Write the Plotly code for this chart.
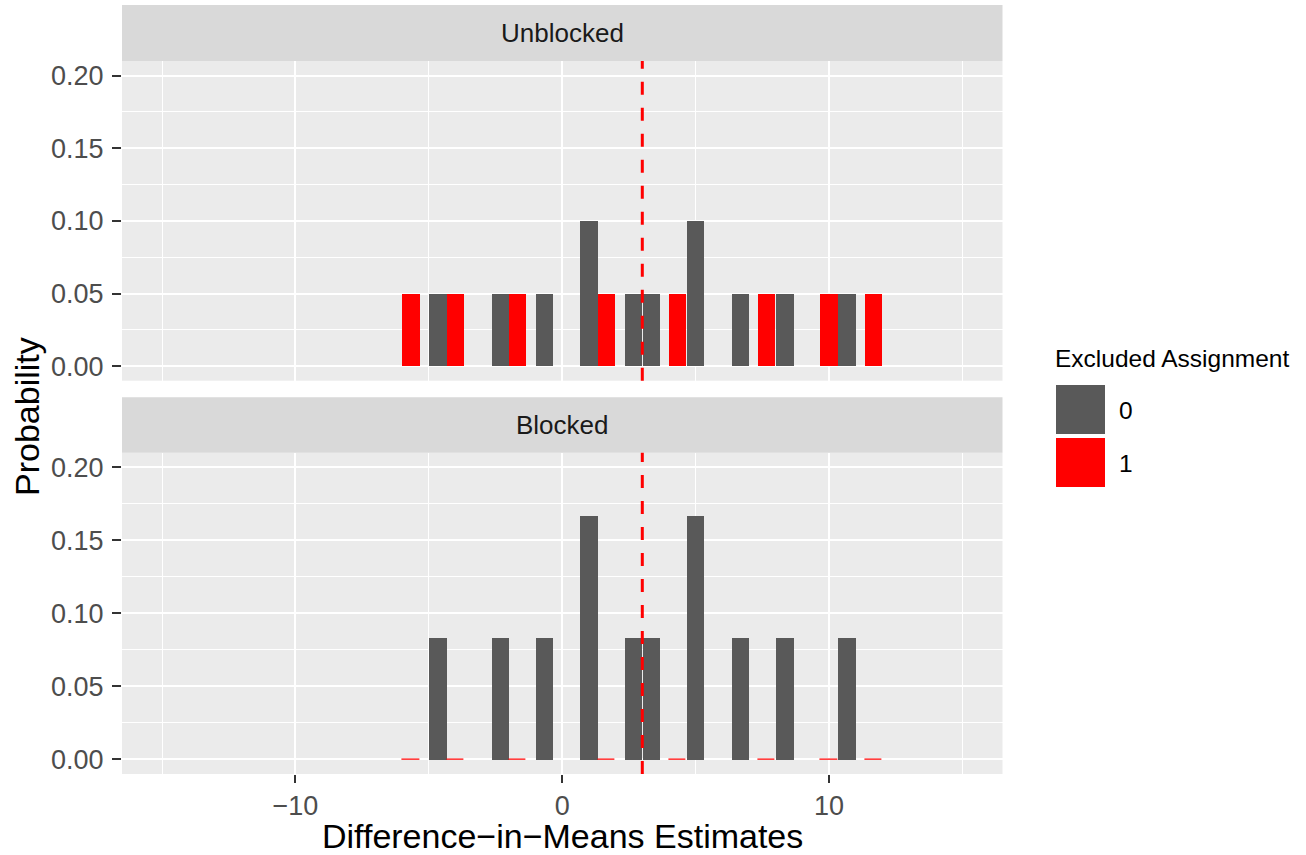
import plotly.graph_objects as go

# ---------------- data ----------------
est_excl0 = [-4.33, -2.0, -0.33, 1.33, 3.0, 3.67, 5.33, 7.0, 8.67, 11.0]
est_excl1 = [-6.0, -4.33, -2.0, 1.33, 4.0, 7.33, 9.67, 11.33]
prob_unblocked_excl0 = [0.05, 0.05, 0.05, 0.10, 0.05, 0.05, 0.10, 0.05, 0.05, 0.05]
prob_unblocked_excl1 = [0.05, 0.05, 0.05, 0.05, 0.05, 0.05, 0.05, 0.05]
prob_blocked_excl0 = [1/12, 1/12, 1/12, 2/12, 1/12, 1/12, 2/12, 1/12, 1/12, 1/12]
prob_blocked_excl1 = [0, 0, 0, 0, 0, 0, 0, 0]
true_ate = 3.0
panel_labels = ["Unblocked", "Blocked"]
legend_labels = ["0", "1"]
x_ticks = [-10, 0, 10]
x_ticktext = ["\u221210", "0", "10"]
y_ticks = [0.0, 0.05, 0.10, 0.15, 0.20]
y_ticktext = ["0.00", "0.05", "0.10", "0.15", "0.20"]

# ---------------- style ----------------
W, H = 1306, 855
GRAY = "#595959"
RED = "#FF0000"
PANEL_BG = "#EBEBEB"
STRIP_BG = "#D9D9D9"
FONT = "Liberation Sans"
BW = 0.65

def px_x(p):
    return p / W

def px_y(p):
    return 1 - p / H

xdom = [px_x(122), px_x(1002.5)]
ydom_top = [px_y(380.7), px_y(61)]
ydom_bot = [px_y(774), px_y(452.7)]

fig = go.Figure()

def add_bars(xs, ys, color, offset, xa, ya, zero_line=False):
    fig.add_trace(go.Bar(
        x=xs, y=ys, width=[BW] * len(xs), offset=offset,
        marker=dict(color=color,
                    line=dict(color=color, width=1.2 if zero_line else 0)),
        xaxis=xa, yaxis=ya, showlegend=False, hoverinfo="skip"))

add_bars(est_excl0, prob_unblocked_excl0, GRAY, -BW, "x", "y")
add_bars(est_excl1, prob_unblocked_excl1, RED, 0, "x", "y")
add_bars(est_excl0, prob_blocked_excl0, GRAY, -BW, "x2", "y2")
add_bars(est_excl1, prob_blocked_excl1, RED, 0, "x2", "y2", zero_line=True)

grid_common = dict(showgrid=True, gridcolor="white", gridwidth=2.4, zeroline=False,
                   showline=False)
minor_x = dict(tickvals=[-15, -5, 5, 15], showgrid=True, gridcolor="white",
               gridwidth=1.2, ticks="")
minor_y = dict(tickvals=[0.025, 0.075, 0.125, 0.175], showgrid=True,
               gridcolor="white", gridwidth=1.2, ticks="")

xr = [-16.5, 16.5]
yr = [-0.01, 0.21]

fig.update_layout(
    width=W, height=H, margin=dict(l=0, r=0, t=0, b=0),
    paper_bgcolor="white", plot_bgcolor=PANEL_BG, barmode="overlay",
    bargap=0, showlegend=False,
    font=dict(family=FONT),
    xaxis=dict(domain=xdom, range=xr, anchor="y", tickmode="array",
               tickvals=x_ticks, ticktext=x_ticktext, showticklabels=False,
               ticks="", minor=minor_x, **grid_common),
    yaxis=dict(domain=ydom_top, range=yr, anchor="x", tickmode="array",
               tickvals=y_ticks, ticktext=y_ticktext, ticks="outside",
               ticklen=9, tickwidth=2, tickcolor="#333333",
               ticklabelstandoff=3,
               tickfont=dict(size=27, color="#4D4D4D", family=FONT),
               minor=minor_y, **grid_common),
    xaxis2=dict(domain=xdom, range=xr, anchor="y2", tickmode="array",
                tickvals=x_ticks, ticktext=x_ticktext, ticks="outside",
                ticklen=8, tickwidth=2, tickcolor="#333333",
                ticklabelstandoff=0,
                tickfont=dict(size=27, color="#4D4D4D", family=FONT),
                minor=minor_x, **grid_common),
    yaxis2=dict(domain=ydom_bot, range=yr, anchor="x2", tickmode="array",
                tickvals=y_ticks, ticktext=y_ticktext, ticks="outside",
                ticklen=9, tickwidth=2, tickcolor="#333333",
                ticklabelstandoff=3,
                tickfont=dict(size=27, color="#4D4D4D", family=FONT),
                minor=minor_y, **grid_common),
)

shapes = []
# strips
for (t, b) in [(5, 61), (397.3, 452.7)]:
    shapes.append(dict(type="rect", xref="paper", yref="paper",
                       x0=xdom[0], x1=xdom[1], y0=px_y(b), y1=px_y(t),
                       fillcolor=STRIP_BG, line=dict(width=0), layer="below"))
# true ATE dashed line
for xa, ya in [("x", "y"), ("x2", "y2")]:
    shapes.append(dict(type="line", xref=xa, yref=ya + " domain",
                       x0=true_ate, x1=true_ate, y0=0, y1=1,
                       line=dict(color=RED, width=3, dash="13px,13px"),
                       layer="above"))
# legend keys
for i, col in enumerate([GRAY, RED]):
    top = 385 + i * 53
    shapes.append(dict(type="rect", xref="paper", yref="paper",
                       x0=px_x(1056), x1=px_x(1105), y0=px_y(top + 49),
                       y1=px_y(top), fillcolor=col, line=dict(width=0)))
fig.update_layout(shapes=shapes)

ann = []
for lab, (t, b) in zip(panel_labels, [(5, 61), (397.3, 452.7)]):
    ann.append(dict(text=lab, xref="paper", yref="paper",
                    x=px_x(562), y=px_y((t + b) / 2), showarrow=False,
                    xanchor="center", yanchor="middle",
                    font=dict(size=26, color="#1A1A1A", family=FONT)))
ann.append(dict(text="Difference\u2212in\u2212Means Estimates", xref="paper",
                yref="paper", x=px_x(562), y=px_y(836), showarrow=False,
                xanchor="center", yanchor="middle",
                font=dict(size=34, color="black", family=FONT)))
ann.append(dict(text="Probability", xref="paper", yref="paper",
                x=px_x(27), y=px_y(417), showarrow=False, textangle=-90,
                xanchor="center", yanchor="middle",
                font=dict(size=34, color="black", family=FONT)))
ann.append(dict(text="Excluded Assignment", xref="paper", yref="paper",
                x=px_x(1053), y=px_y(358), showarrow=False,
                xanchor="left", yanchor="middle",
                font=dict(size=24.5, color="black", family=FONT)))
for i, lab in enumerate(legend_labels):
    ann.append(dict(text=lab, xref="paper", yref="paper",
                    x=px_x(1117), y=px_y(410 + i * 53), showarrow=False,
                    xanchor="left", yanchor="middle",
                    font=dict(size=24.5, color="black", family=FONT)))
fig.update_layout(annotations=ann)

fig.write_html("out.html")
